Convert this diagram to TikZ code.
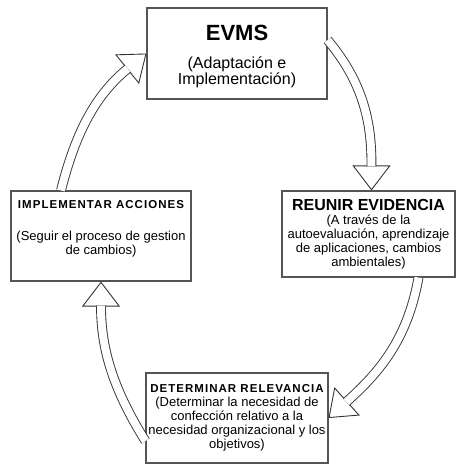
\documentclass[tikz,border=0pt]{standalone}
\usepackage{fontspec}
\setmainfont{Liberation Sans}
\usetikzlibrary{arrows.meta}
\definecolor{bordegris}{HTML}{555555}
\tikzset{
  etapa/.style={draw=bordegris, line width=1.1pt, fill=white, align=center, inner sep=2pt,
    font=\fontsize{13}{14}\selectfont},
  punta/.style={draw=black!80, line width=0.9pt, -{Triangle[open, length=25pt, width=38pt]}},
  cuerpo/.style={draw=black!80, line width=0.9pt, double=white, double distance=8pt, shorten >=24pt},
}
\newcommand{\titulo}[1]{{\fontsize{11.5}{14}\selectfont\bfseries\addfontfeature{LetterSpace=9}#1}}
\begin{document}
\begin{tikzpicture}[x=1pt,y=1pt]
\useasboundingbox (0,0) rectangle (461,-464);
% etapas del ciclo
\node[etapa, minimum width=180pt, minimum height=91pt] (evms) at (237,-53.5)
  {\rule{0pt}{22pt}{\fontsize{22}{24}\selectfont\bfseries EVMS}\\[14pt]
   {\fontsize{16}{18}\selectfont (Adaptación e}\\{\fontsize{16}{18}\selectfont Implementación)}};
\node[etapa, minimum width=173pt, minimum height=86pt] (reunir) at (368.5,-234)
  {{\fontsize{16}{16}\selectfont\bfseries REUNIR EVIDENCIA}\\
   (A través de la\\autoevaluación, aprendizaje\\de aplicaciones, cambios\\ambientales)};
\node[etapa, minimum width=182pt, minimum height=90pt] (determinar) at (237,-418)
  {\titulo{DETERMINAR RELEVANCIA}\\
   (Determinar la necesidad de\\confección relativo a la\\necesidad organizacional y los\\objetivos)};
\node[etapa, minimum width=180pt, minimum height=90pt] (implementar) at (101,-236)
  {\titulo{IMPLEMENTAR ACCIONES}\\[18pt]
   (Seguir el proceso de gestion\\de cambios)\\[4pt]};
% flechas huecas
\draw[punta] ([yshift=13.5pt]evms.east) to[out=-50,in=90] ([xshift=3pt]reunir.north);
\draw[cuerpo] ([yshift=13.5pt]evms.east) to[out=-50,in=90] ([xshift=3pt]reunir.north);
\draw[punta] ([xshift=50pt]reunir.south) to[out=-100,in=42] (determinar.east);
\draw[cuerpo] ([xshift=50pt]reunir.south) to[out=-100,in=42] (determinar.east);
\draw[punta] ([yshift=-23pt]determinar.west) to[out=122,in=-90] (implementar.south);
\draw[cuerpo] ([yshift=-23pt]determinar.west) to[out=122,in=-90] (implementar.south);
\draw[punta] ([xshift=-40pt]implementar.north) to[out=76,in=219] (evms.west);
\draw[cuerpo] ([xshift=-40pt]implementar.north) to[out=76,in=219] (evms.west);
\end{tikzpicture}
\end{document}
